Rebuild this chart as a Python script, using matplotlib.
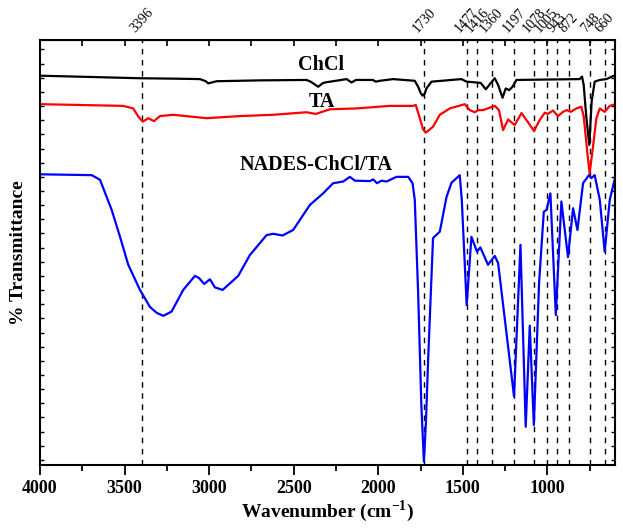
import numpy as np
import matplotlib
matplotlib.use('Agg')
import matplotlib.pyplot as plt
from matplotlib.ticker import MultipleLocator, FixedLocator

# spectra (wavenumber, % transmittance in arbitrary offset units)
chcl_wn = [4000, 3700, 3409, 3200, 3054, 3020, 3005, 2985, 2956, 2700, 2424, 2400, 2385, 2355, 2330,
           2316, 2187, 2158, 2132, 2032, 2014, 1991,
           1912, 1784, 1764, 1750, 1738, 1725, 1715, 1685, 1508, 1478, 1419, 1394, 1364, 1340, 1311,
           1291, 1265, 1246, 1226, 1206, 1183, 809, 795, 785, 770, 752, 738, 720, 690, 651, 612, 600]
chcl_t = [91.6, 91.3, 91.0, 90.9, 90.8, 90.3, 89.8, 90.0, 90.3, 90.5, 90.6, 90.2, 89.8, 89.0, 89.8,
          90.0, 90.8, 90.0, 90.6, 90.6, 90.2, 90.4,
          90.8, 90.4, 89.0, 87.6, 86.9, 87.4, 88.6, 90.2, 90.8, 90.2, 90.0, 89.9, 88.4, 89.6, 91.0,
          89.4, 86.4, 88.6, 88.2, 89.0, 90.6, 90.8, 91.4, 89.4, 82.0, 75.3, 85.6, 90.2, 90.6, 90.8, 91.5, 91.6]

ta_wn = [4000, 3508, 3449, 3419, 3393, 3375, 3360, 3340, 3326, 3291, 3212, 3015, 2818, 2621, 2424, 2369,
         2286, 2128, 1932, 1794, 1778, 1754, 1735, 1719, 1700, 1676, 1636, 1577, 1488, 1459, 1429,
         1409, 1380, 1311, 1286, 1262, 1232, 1193, 1153, 1124, 1079, 1045, 1015, 998, 966, 937,
         907, 885, 862, 828, 799, 785, 765, 750, 730, 710, 690, 661, 631, 600]
ta_t = [84.9, 84.5, 83.9, 82.0, 80.8, 81.2, 81.6, 81.2, 80.9, 82.1, 82.4, 81.6, 82.1, 82.4, 83.0, 82.6,
        83.7, 83.9, 84.5, 84.5, 84.7, 81.6, 79.0, 78.2, 78.8, 79.6, 82.4, 83.9, 84.9, 83.5, 83.0,
        83.5, 83.5, 84.5, 83.5, 78.8, 81.3, 80.0, 82.8, 81.2, 78.6, 81.2, 82.9, 82.6, 83.4, 82.1,
        83.1, 83.5, 83.1, 83.9, 84.3, 82.0, 74.0, 68.6, 74.9, 81.6, 83.9, 83.1, 84.5, 84.9]

nades_wn = [4000, 3694, 3645, 3576, 3527, 3478, 3409, 3350, 3310, 3271, 3222, 3153, 3084, 3060, 3029,
            2995, 2966, 2920, 2828, 2759, 2660, 2621, 2566, 2503, 2404, 2326, 2267, 2207, 2168, 2138,
            2050, 2030, 2007, 1981, 1951, 1892, 1823, 1797, 1784, 1764, 1745, 1730, 1718, 1705, 1676,
            1636, 1596, 1567, 1518, 1506, 1477, 1449, 1416, 1396, 1351, 1311, 1291, 1197, 1159, 1128,
            1104, 1080, 1049, 1021, 1005, 982, 950, 917, 878, 848, 822, 789, 754, 740, 720, 690, 661,
            631, 600]
nades_t = [68.4, 68.2, 67.1, 60.0, 53.7, 47.1, 41.2, 37.2, 35.8, 35.1, 36.1, 41.2, 44.5, 44.0, 42.6,
           43.7, 41.8, 41.2, 44.5, 49.4, 54.1, 54.4, 54.0, 55.3, 61.2, 63.9, 66.3, 66.7, 67.8, 66.9,
           66.8, 67.2, 66.3, 66.9, 66.7, 67.8, 67.8, 66.3, 62.4, 40.5, 14.0, 0.8, 10.0, 24.7, 53.4,
           54.9, 63.1, 66.4, 68.2, 62.4, 37.6, 53.7, 50.2, 51.2, 47.1, 49.2, 47.5, 16.1, 51.8, 9.0,
           32.8, 9.4, 42.8, 59.6, 60.0, 63.9, 35.3, 62.0, 48.9, 60.4, 55.3, 66.3, 68.2, 67.5, 68.2,
           62.4, 50.2, 62.4, 67.5]

# marked peaks
peak_pos = [3396, 1730, 1477, 1416, 1330, 1197, 1078, 1005, 943, 872, 748, 660]
peak_lbl = ['3396', '1730', '1477', '1416', '1360', '1197', '1078', '1005', '943', '872', '748', '660']

plt.rcParams['font.family'] = ['Liberation Serif', 'DejaVu Serif']
plt.rcParams['mathtext.fontset'] = 'custom'
plt.rcParams['mathtext.bf'] = 'Liberation Serif:bold'
plt.rcParams['mathtext.rm'] = 'Liberation Serif'

fig = plt.figure(figsize=(6.23, 5.28), dpi=100)
ax = fig.add_axes([40/623, 63/528, 575/623, 425/528])

ax.plot(chcl_wn, chcl_t, color='black', lw=1.6)
ax.plot(ta_wn, ta_t, color='red', lw=1.6)
ax.plot(nades_wn, nades_t, color='blue', lw=1.6)

for p, l in zip(peak_pos, peak_lbl):
    ax.axvline(p, color='black', lw=1, ls=(0, (4, 4)), zorder=0)
    ax.text(p, 101.2, l, rotation=48, ha='center', va='bottom', fontsize=10)

ax.text(2336, 92.9, 'ChCl', ha='center', va='baseline', fontsize=14.5, fontweight='bold')
ax.text(2333, 84.2, 'TA', ha='center', va='baseline', fontsize=14.5, fontweight='bold')
ax.text(2366, 69.4, 'NADES-ChCl/TA', ha='center', va='baseline', fontsize=14.5, fontweight='bold')

ax.set_xlim(4000, 600)
ax.set_ylim(0, 100)
ax.xaxis.set_major_locator(MultipleLocator(500))
ax.xaxis.set_minor_locator(MultipleLocator(250))
ax.yaxis.set_major_locator(FixedLocator(np.arange(1.2, 100, 6.66)))
ax.yaxis.set_minor_locator(FixedLocator(np.arange(4.53, 100, 6.66)))
ax.set_yticklabels([])

ax.tick_params(axis='x', which='major', direction='out', length=7, width=1.3, top=False, pad=4)
ax.tick_params(axis='x', which='minor', direction='out', length=4, width=1.3, top=False)
ax.tick_params(axis='y', which='both', direction='in', length=3, width=1, right=True)
for lab in ax.get_xticklabels():
    lab.set_fontweight('bold')
    lab.set_fontsize(13)

# top ticks (inward)
top = ax.secondary_xaxis('top')
top.xaxis.set_major_locator(MultipleLocator(250))
top.tick_params(direction='in', length=4, width=1.2, labeltop=False)

for s in ax.spines.values():
    s.set_linewidth(1.5)

ax.set_xlabel('Wavenumber (cm$^{\\mathbf{-1}}$)', fontsize=14, fontweight='bold', labelpad=1)
ax.set_ylabel('% Transmittance', fontsize=14, fontweight='bold', labelpad=6)

plt.savefig('out.png', dpi=100)
